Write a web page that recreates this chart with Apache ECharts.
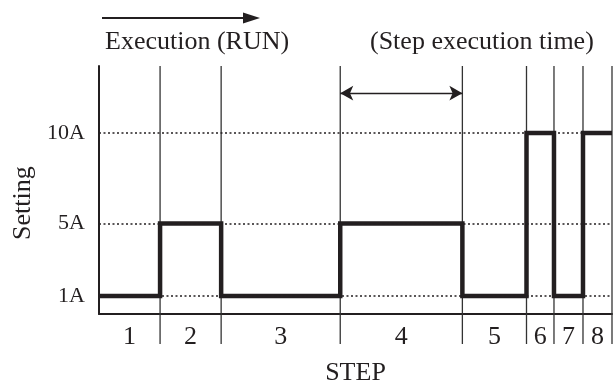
<!DOCTYPE html>
<html>
<head>
<meta charset="utf-8">
<script src="https://cdn.jsdelivr.net/npm/echarts@6/dist/echarts.min.js"></script>
<style>
  html, body { margin: 0; padding: 0; background: #fff; }
  #chart { width: 615px; height: 385px; }
</style>
</head>
<body>
<div id="chart"></div>
<script>
// step data
var stepLabels = ['1', '2', '3', '4', '5', '6', '7', '8'];
var stepTimes = [2, 2, 3.9, 4, 2.1, 0.9, 0.95, 0.95];   // step execution time
var stepLevels = [1, 5, 1, 5, 1, 10, 1, 10];             // setting (A)
var levelTicks = [1, 5, 10];
var yMin = 0, yMax = 13.7;
var arrowLevel = 12.2;   // height of the (Step execution time) arrow

var ink = '#231f20';
var serif = '"Liberation Serif", "DejaVu Serif", serif';

// start / end of each step
var starts = [], ends = [];
var t = 0;
for (var i = 0; i < stepTimes.length; i++) {
    starts.push(t);
    t += stepTimes[i];
    ends.push(t);
}
var total = t;

var linePts = [];
for (var i = 0; i < stepLevels.length; i++) {
    linePts.push([starts[i], stepLevels[i]]);
}
linePts.push([total, stepLevels[stepLevels.length - 1]]);

var segData = [];
for (var i = 0; i < stepLabels.length; i++) {
    segData.push([starts[i], ends[i], stepLabels[i]]);
}

var chart = echarts.init(document.getElementById('chart'));

chart.setOption({
    animation: false,
    grid: { left: 99, right: 3, top: 66, bottom: 71, outerBoundsMode: 'none', containLabel: false },
    xAxis: {
        type: 'value',
        min: 0,
        max: total,
        name: 'STEP',
        nameLocation: 'middle',
        nameGap: 46,
        nameTextStyle: { fontFamily: serif, fontSize: 26, color: ink },
        axisLine: { show: true, lineStyle: { color: ink, width: 2 } },
        axisTick: { show: false },
        axisLabel: { show: false },
        splitLine: { show: false }
    },
    yAxis: {
        type: 'value',
        min: yMin,
        max: yMax,
        interval: 1,
        axisLine: { show: true, lineStyle: { color: ink, width: 2 } },
        axisTick: { show: false },
        splitLine: { show: false },
        axisLabel: {
            margin: 14,
            fontFamily: serif,
            fontSize: 22,
            color: ink,
            formatter: function (v) {
                return levelTicks.indexOf(v) >= 0 ? v + 'A' : '';
            }
        }
    },
    graphic: [
        // run direction arrow
        {
            type: 'line',
            shape: { x1: 102, y1: 18, x2: 248, y2: 18 },
            style: { stroke: ink, lineWidth: 2.2 }
        },
        {
            type: 'polygon',
            shape: { points: [[243, 12.5], [260, 18], [243, 23.5]] },
            style: { fill: ink }
        },
        {
            type: 'text',
            left: 105,
            top: 29,
            style: { text: 'Execution (RUN)', font: '26px ' + serif, fill: ink }
        },
        {
            type: 'text',
            left: 370,
            top: 29,
            style: { text: '(Step execution time)', font: '26px ' + serif, fill: ink }
        },
        {
            type: 'text',
            x: 10,
            y: 240,
            rotation: Math.PI / 2,
            style: { text: 'Setting', font: '26px ' + serif, fill: ink }
        }
    ],
    series: [
        {
            // dotted level lines
            type: 'line',
            data: [],
            z: 1,
            markLine: {
                silent: true,
                symbol: 'none',
                label: { show: false },
                lineStyle: { color: ink, width: 1.5, type: [2, 2.5] },
                data: levelTicks.map(function (v) { return { yAxis: v }; })
            }
        },
        {
            // step execution time arrow over step 4
            type: 'line',
            data: [],
            z: 2,
            markLine: {
                silent: true,
                symbol: ['arrow', 'arrow'],
                symbolSize: [11, 13],
                label: { show: false },
                lineStyle: { color: ink, width: 1.3, type: 'solid' },
                data: [[{ coord: [starts[3], arrowLevel] }, { coord: [ends[3], arrowLevel] }]]
            }
        },
        {
            // step boundaries and step numbers
            type: 'custom',
            clip: false,
            z: 2,
            data: segData,
            renderItem: function (params, api) {
                var s = api.value(0), e = api.value(1);
                var top = api.coord([e, yMax]);
                var bot = api.coord([e, yMin]);
                var left = api.coord([s, yMin]);
                return {
                    type: 'group',
                    children: [
                        {
                            type: 'line',
                            shape: { x1: top[0], y1: top[1], x2: top[0], y2: bot[1] + 30 },
                            style: { stroke: '#333', lineWidth: 1.3 }
                        },
                        {
                            type: 'text',
                            x: (left[0] + top[0]) / 2,
                            y: bot[1] + 23,
                            style: {
                                text: segData[params.dataIndex][2],
                                font: '26px ' + serif,
                                fill: ink,
                                align: 'center',
                                verticalAlign: 'middle'
                            }
                        }
                    ]
                };
            }
        },
        {
            type: 'line',
            step: 'end',
            data: linePts,
            z: 3,
            symbol: 'none',
            lineStyle: { color: ink, width: 4.5, join: 'miter' }
        }
    ]
});
</script>
</body>
</html>
